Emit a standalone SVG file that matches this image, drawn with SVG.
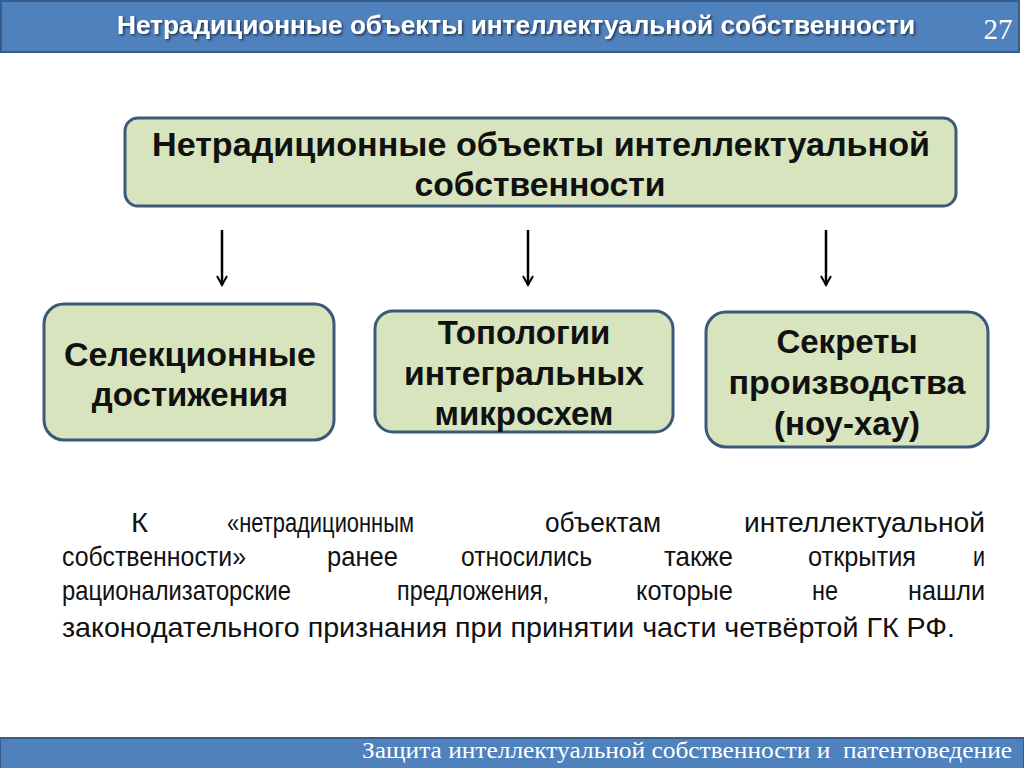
<svg xmlns="http://www.w3.org/2000/svg" width="1024" height="768" viewBox="0 0 1024 768">
<defs>
<style>
.bar{fill:#4f81bd;stroke:#385d8a;stroke-width:2}
.box{fill:#d7e4bd;stroke:#3b5a7a;stroke-width:3}
.bt{font-family:"Liberation Sans",Arial,sans-serif;font-weight:bold;font-size:33px;fill:#111;text-anchor:middle}
.nt{font-family:"Liberation Sans",Arial,sans-serif;font-weight:bold;font-size:33px;fill:#111;text-anchor:middle}
.p{font-family:"Liberation Sans",Arial,sans-serif;font-size:28px;fill:#111}
.arr{stroke:#000;stroke-width:2.5;fill:none}
</style>
<marker id="ah" viewBox="0 0 12 12" refX="10" refY="6" markerWidth="12" markerHeight="12" markerUnits="userSpaceOnUse" orient="auto">
<path d="M1,1 L10,6 L1,11" fill="none" stroke="#000" stroke-width="2"/>
</marker>
<filter id="sh" x="-5%" y="-20%" width="110%" height="140%">
<feDropShadow dx="1.5" dy="1.5" stdDeviation="0.8" flood-color="#000" flood-opacity="0.6"/>
</filter>
</defs>
<rect width="1024" height="768" fill="#fff"/>
<g id="header">
<rect class="bar" x="1" y="1" width="1018" height="51"/>
<text x="516" y="34" font-family="Liberation Sans,Arial,sans-serif" font-weight="bold" font-size="26" fill="#fff" text-anchor="middle" textLength="798" lengthAdjust="spacingAndGlyphs" filter="url(#sh)">Нетрадиционные объекты интеллектуальной собственности</text>
<text x="998" y="39" font-family="Liberation Serif,Times New Roman,serif" font-size="29" fill="#fff" text-anchor="middle">27</text>
</g>
<g id="top">
<rect class="box" x="125" y="118" width="831" height="88" rx="13"/>
<text class="nt" x="541" y="156" textLength="778" lengthAdjust="spacingAndGlyphs">Нетрадиционные объекты интеллектуальной</text>
<text class="nt" x="540" y="196" textLength="251" lengthAdjust="spacingAndGlyphs">собственности</text>
</g>
<g id="connectors">
<line class="arr" x1="222" y1="230" x2="222" y2="285" marker-end="url(#ah)"/>
<line class="arr" x1="528" y1="230" x2="528" y2="285" marker-end="url(#ah)"/>
<line class="arr" x1="826" y1="230" x2="826" y2="285" marker-end="url(#ah)"/>
</g>
<g id="n1">
<rect class="box" x="44" y="304" width="290" height="136" rx="20"/>
<text class="bt" x="190" y="366" textLength="252" lengthAdjust="spacingAndGlyphs">Селекционные</text>
<text class="bt" x="190" y="406">достижения</text>
</g>
<g id="n2">
<rect class="box" x="375" y="311" width="298" height="121" rx="18"/>
<text class="bt" x="524" y="344">Топологии</text>
<text class="bt" x="524" y="385" textLength="240" lengthAdjust="spacingAndGlyphs">интегральных</text>
<text class="bt" x="524" y="425">микросхем</text>
</g>
<g id="n3">
<rect class="box" x="706" y="312" width="282" height="135" rx="20"/>
<text class="bt" x="847" y="353">Секреты</text>
<text class="bt" x="847" y="394" textLength="237" lengthAdjust="spacingAndGlyphs">производства</text>
<text class="bt" x="847" y="435">(ноу-хау)</text>
</g>
<g id="paragraph" class="p">
<text x="131" y="532" textLength="17" lengthAdjust="spacingAndGlyphs">К</text>
<text x="227" y="532" textLength="187" lengthAdjust="spacingAndGlyphs">«нетрадиционным</text>
<text x="545" y="532" textLength="116" lengthAdjust="spacingAndGlyphs">объектам</text>
<text x="744" y="532" textLength="241" lengthAdjust="spacingAndGlyphs">интеллектуальной</text>
<text x="62" y="566" textLength="184" lengthAdjust="spacingAndGlyphs">собственности»</text>
<text x="327" y="566" textLength="71" lengthAdjust="spacingAndGlyphs">ранее</text>
<text x="461" y="566" textLength="131" lengthAdjust="spacingAndGlyphs">относились</text>
<text x="664" y="566" textLength="69" lengthAdjust="spacingAndGlyphs">также</text>
<text x="808" y="566" textLength="108" lengthAdjust="spacingAndGlyphs">открытия</text>
<text x="973" y="566" textLength="12" lengthAdjust="spacingAndGlyphs">и</text>
<text x="62" y="600" textLength="229" lengthAdjust="spacingAndGlyphs">рационализаторские</text>
<text x="397" y="600" textLength="152" lengthAdjust="spacingAndGlyphs">предложения,</text>
<text x="636" y="600" textLength="97" lengthAdjust="spacingAndGlyphs">которые</text>
<text x="812" y="600" textLength="26" lengthAdjust="spacingAndGlyphs">не</text>
<text x="908" y="600" textLength="77" lengthAdjust="spacingAndGlyphs">нашли</text>
<text x="62" y="637" textLength="893" lengthAdjust="spacingAndGlyphs">законодательного признания при принятии части четвёртой ГК РФ.</text>
</g>
<g id="footer">
<rect class="bar" x="0" y="738" width="1024" height="31"/>
<text x="1012" y="758" font-family="Liberation Serif,Times New Roman,serif" font-size="24" fill="#fff" text-anchor="end" textLength="650" lengthAdjust="spacingAndGlyphs" xml:space="preserve">Защита интеллектуальной собственности и  патентоведение</text>
</g>
</svg>
